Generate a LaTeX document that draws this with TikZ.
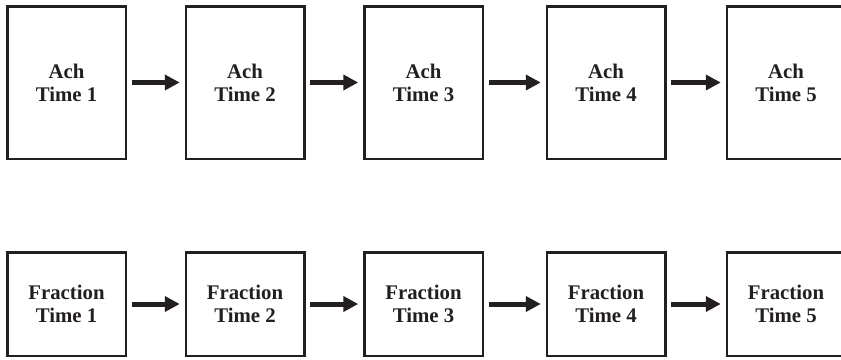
\documentclass[tikz,border=0pt]{standalone}
\usepackage{fontspec}
\setmainfont{Liberation Serif}
\usetikzlibrary{arrows.meta}
\definecolor{ink}{RGB}{35,31,32}
\begin{document}
\begin{tikzpicture}[x=1pt,y=-1pt,
  box/.style={draw=ink, line width=2.5pt, fill=white, minimum width=118.5pt, outer sep=0pt,
    align=center, inner sep=0pt, font=\bfseries\fontsize{20.8}{23}\selectfont, text=ink},
  tall/.style={box, minimum height=152.5pt},
  short/.style={box, minimum height=103.5pt},
  arr/.style={draw=ink, line width=5pt, -{Triangle[length=15pt,width=15pt]}, shorten <=6pt, shorten >=6pt}]
\useasboundingbox (0,0) rectangle (841,359);
\foreach \i/\x in {1/66.5,2/245,3/423.5,4/606,5/786}{
  \node[tall] (a\i) at (\x,82.5) {Ach\\Time \i};
  \node[short] (f\i) at (\x,304) {Fraction\\Time \i};
}
\foreach \i/\j in {1/2,2/3,3/4,4/5}{
  \draw[arr] (a\i.east) -- (a\j.west);
  \draw[arr] (f\i.east) -- (f\j.west);
}
\end{tikzpicture}
\end{document}
